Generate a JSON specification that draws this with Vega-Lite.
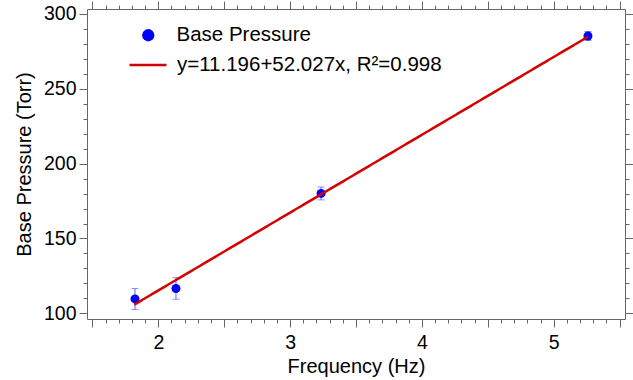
{
  "$schema": "https://vega.github.io/schema/vega-lite/v6.json",
  "width": 538,
  "height": 310,
  "autosize": {"type": "none"},
  "padding": {"left": 87, "top": 9, "right": 8, "bottom": 61},
  "background": "white",
  "config": {
    "view": {"stroke": null},
    "font": "Liberation Sans",
    "axis": {
      "domainColor": "#666666",
      "tickColor": "#666666",
      "labelColor": "#000000",
      "titleColor": "#000000",
      "labelFont": "Liberation Sans",
      "titleFont": "Liberation Sans",
      "labelFontSize": 19.5,
      "titleFontSize": 20,
      "titleFontWeight": "normal",
      "grid": false,
      "labelFlush": false,
      "labelOverlap": false,
      "labelBound": false
    },
    "legend": {
      "labelFont": "Liberation Sans",
      "labelFontSize": 20.5,
      "labelColor": "#000000",
      "labelLimit": 500,
      "padding": 0,
      "titlePadding": 0
    }
  },
  "datasets": {
    "measured": [
      {"freq": 1.823, "pressure": 109.6, "err": 7.0},
      {"freq": 2.134, "pressure": 116.6, "err": 7.2},
      {"freq": 3.235, "pressure": 180.1, "err": 4.3},
      {"freq": 5.26, "pressure": 285.3, "err": 3.0}
    ],
    "fit": [
      {"freq": 1.818, "pressure": 105.8},
      {"freq": 5.258, "pressure": 284.7}
    ]
  },
  "resolve": {"axis": {"x": "independent", "y": "independent"}},
  "layer": [
    {
      "data": {"name": "measured"},
      "mark": {"type": "errorbar", "ticks": true, "size": 7, "thickness": 1, "color": "#6060ff"},
      "encoding": {
        "x": {"field": "freq", "type": "quantitative", "axis": null,
              "scale": {"domain": [1.459, 5.541], "nice": false, "zero": false}},
        "y": {"field": "pressure", "type": "quantitative", "axis": null,
              "scale": {"domain": [96.19, 303.34], "nice": false, "zero": false}},
        "yError": {"field": "err"}
      }
    },
    {
      "data": {"name": "measured"},
      "mark": {"type": "point", "filled": true, "size": 81, "opacity": 1},
      "encoding": {
        "x": {"field": "freq", "type": "quantitative",
              "axis": {
                "orient": "bottom",
                "title": "Frequency (Hz)",
                "values": [1.5,1.6,1.7,1.8,1.9,2,2.1,2.2,2.3,2.4,2.5,2.6,2.7,2.8,2.9,3,3.1,3.2,3.3,3.4,3.5,3.6,3.7,3.8,3.9,4,4.1,4.2,4.3,4.4,4.5,4.6,4.7,4.8,4.9,5,5.1,5.2,5.3,5.4,5.5],
                "tickSize": {"condition": {"test": "abs(datum.value*2 - round(datum.value*2)) < 0.001", "value": 8}, "value": 4},
                "labelExpr": "abs(datum.value - round(datum.value)) < 0.001 ? format(datum.value, 'd') : ''",
                "labelPadding": 6,
                "titlePadding": 5
              }},
        "y": {"field": "pressure", "type": "quantitative",
              "axis": {
                "orient": "left",
                "title": "Base Pressure (Torr)",
                "values": [100,110,120,130,140,150,160,170,180,190,200,210,220,230,240,250,260,270,280,290,300],
                "tickSize": {"condition": {"test": "datum.value % 50 === 0", "value": 8}, "value": 4},
                "labelExpr": "datum.value % 50 === 0 ? datum.label : ''",
                "labelPadding": 3,
                "titlePadding": 9
              }},
        "color": {"datum": "Base Pressure", "type": "nominal",
                  "scale": {"range": ["#0000ff"]},
                  "legend": {"title": null, "orient": "none", "legendX": 51, "legendY": 16,
                             "symbolType": "circle", "symbolSize": 151, "labelOffset": 18}}
      }
    },
    {
      "data": {"name": "fit"},
      "mark": {"type": "line", "color": "#d40000", "strokeWidth": 2.5},
      "encoding": {
        "x": {"field": "freq", "type": "quantitative",
              "axis": {
                "orient": "top",
                "title": null,
                "values": [1.5,1.6,1.7,1.8,1.9,2,2.1,2.2,2.3,2.4,2.5,2.6,2.7,2.8,2.9,3,3.1,3.2,3.3,3.4,3.5,3.6,3.7,3.8,3.9,4,4.1,4.2,4.3,4.4,4.5,4.6,4.7,4.8,4.9,5,5.1,5.2,5.3,5.4,5.5],
                "tickSize": {"condition": {"test": "abs(datum.value*2 - round(datum.value*2)) < 0.001", "value": 8}, "value": 4},
                "labels": false
              }},
        "y": {"field": "pressure", "type": "quantitative",
              "axis": {
                "orient": "right",
                "title": null,
                "values": [100,110,120,130,140,150,160,170,180,190,200,210,220,230,240,250,260,270,280,290,300],
                "tickSize": {"condition": {"test": "datum.value % 50 === 0", "value": 8}, "value": 4},
                "labels": false
              }},
        "strokeDash": {"datum": "y=11.196+52.027x, R²=0.998", "type": "nominal",
                       "scale": {"range": [[1, 0]]},
                       "legend": {"title": null, "orient": "none", "legendX": 41, "legendY": 36,
                                  "symbolType": "stroke", "symbolSize": 1369,
                                  "symbolStrokeColor": "#d40000", "symbolStrokeWidth": 2.5,
                                  "labelOffset": 9}}
      }
    }
  ]
}
